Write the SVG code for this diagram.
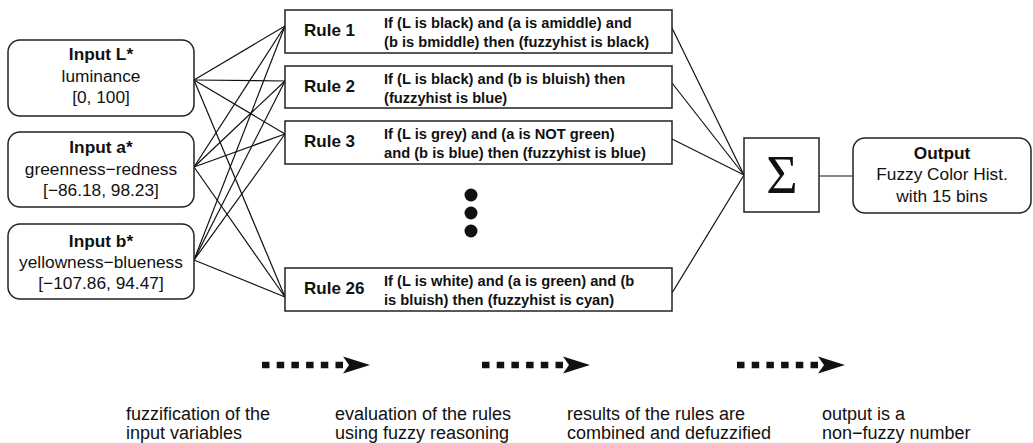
<svg xmlns="http://www.w3.org/2000/svg" width="1033" height="443" viewBox="0 0 1033 443">
<defs>
<style>
.box{fill:#fff;stroke:#222;stroke-width:1.5}
.ln{stroke:#111;stroke-width:1.2;fill:none}
.t{font-family:"Liberation Sans",Arial,sans-serif;font-size:17.3px;fill:#111;text-anchor:middle}
.tb{font-weight:bold}
.rl{font-family:"Liberation Sans",Arial,sans-serif;font-size:17px;font-weight:bold;fill:#111}
.rt{font-family:"Liberation Sans",Arial,sans-serif;font-size:14.7px;font-weight:bold;fill:#111}
.bt{font-family:"Liberation Sans",Arial,sans-serif;font-size:18px;fill:#111}
.dash{stroke:#111;stroke-width:6.5;stroke-dasharray:7.5 7.2;fill:none}
.head{fill:#111}
</style>
</defs>
<rect width="1033" height="443" fill="#fff"/>
<g id="connectors">
<line class="ln" x1="194" y1="80" x2="285" y2="26"/>
<line class="ln" x1="194" y1="80" x2="285" y2="81"/>
<line class="ln" x1="194" y1="80" x2="285" y2="134"/>
<line class="ln" x1="194" y1="80" x2="285" y2="297"/>
<line class="ln" x1="194" y1="167" x2="285" y2="26"/>
<line class="ln" x1="194" y1="167" x2="285" y2="81"/>
<line class="ln" x1="194" y1="167" x2="285" y2="134"/>
<line class="ln" x1="194" y1="167" x2="285" y2="297"/>
<line class="ln" x1="194" y1="260" x2="285" y2="26"/>
<line class="ln" x1="194" y1="260" x2="285" y2="81"/>
<line class="ln" x1="194" y1="260" x2="285" y2="134"/>
<line class="ln" x1="194" y1="260" x2="285" y2="297"/>
<line class="ln" x1="672" y1="28" x2="744" y2="175"/>
<line class="ln" x1="672" y1="83" x2="744" y2="175"/>
<line class="ln" x1="672" y1="139" x2="744" y2="175"/>
<line class="ln" x1="672" y1="293" x2="744" y2="175"/>
<line class="ln" x1="819" y1="176" x2="853" y2="176"/>
</g>
<g id="inputL">
<rect class="box" x="8" y="40" width="186" height="76" rx="12"/>
<text class="t tb" x="101" y="60">Input L*</text>
<text class="t" x="101" y="82">luminance</text>
<text class="t" x="101" y="103">[0, 100]</text>
</g>
<g id="inputA">
<rect class="box" x="8" y="132" width="186" height="75" rx="12"/>
<text class="t tb" x="101" y="153">Input a*</text>
<text class="t" x="101" y="175">greenness−redness</text>
<text class="t" x="101" y="196">[−86.18, 98.23]</text>
</g>
<g id="inputB">
<rect class="box" x="8" y="224" width="186" height="75" rx="12"/>
<text class="t tb" x="101" y="247">Input b*</text>
<text class="t" x="101" y="268">yellowness−blueness</text>
<text class="t" x="101" y="289">[−107.86, 94.47]</text>
</g>
<g id="rule1">
<rect class="box" x="285" y="10" width="387" height="43"/>
<text class="rl" x="304" y="36">Rule 1</text>
<text class="rt" x="384" y="28">If (L is black) and (a is amiddle) and</text>
<text class="rt" x="384" y="47">(b is bmiddle) then (fuzzyhist is black)</text>
</g>
<g id="rule2">
<rect class="box" x="285" y="66" width="387" height="42"/>
<text class="rl" x="304" y="92">Rule 2</text>
<text class="rt" x="384" y="84">If (L is black) and (b is bluish) then</text>
<text class="rt" x="384" y="103">(fuzzyhist is blue)</text>
</g>
<g id="rule3">
<rect class="box" x="285" y="121" width="387" height="43"/>
<text class="rl" x="304" y="147">Rule 3</text>
<text class="rt" x="384" y="139">If (L is grey) and (a is NOT green)</text>
<text class="rt" x="384" y="158">and (b is blue) then (fuzzyhist is blue)</text>
</g>
<g id="dots">
<circle cx="471" cy="195" r="6.5" fill="#111"/>
<circle cx="471" cy="213" r="6.5" fill="#111"/>
<circle cx="471" cy="231" r="6.5" fill="#111"/>
</g>
<g id="rule26">
<rect class="box" x="285" y="268" width="387" height="43"/>
<text class="rl" x="304" y="294">Rule 26</text>
<text class="rt" x="384" y="286">If (L is white) and (a is green) and (b</text>
<text class="rt" x="384" y="305">is bluish) then (fuzzyhist is cyan)</text>
</g>
<g id="sum">
<rect class="box" x="744" y="138" width="75" height="74"/>
<text x="782" y="193" font-family="'Liberation Serif','Times New Roman',serif" font-size="54" fill="#111" text-anchor="middle">Σ</text>
</g>
<g id="output">
<rect class="box" x="853" y="138" width="178" height="75" rx="12"/>
<text class="t tb" x="942" y="159">Output</text>
<text class="t" x="942" y="180">Fuzzy Color Hist.</text>
<text class="t" x="942" y="202">with 15 bins</text>
</g>
<g id="stages">
<line class="dash" x1="262" y1="365" x2="343" y2="365"/>
<path class="head" d="M370,365 L343,356.5 L349,365 L343,373.5 Z"/>
<line class="dash" x1="482" y1="365" x2="563" y2="365"/>
<path class="head" d="M590,365 L563,356.5 L569,365 L563,373.5 Z"/>
<line class="dash" x1="737" y1="365" x2="818" y2="365"/>
<path class="head" d="M845,365 L818,356.5 L824,365 L818,373.5 Z"/>
<text class="bt" x="126" y="420">fuzzification of the</text>
<text class="bt" x="126" y="439">input variables</text>
<text class="bt" x="335" y="420">evaluation of the rules</text>
<text class="bt" x="335" y="439">using fuzzy reasoning</text>
<text class="bt" x="567" y="420">results of the rules are</text>
<text class="bt" x="567" y="439">combined and defuzzified</text>
<text class="bt" x="822" y="420">output is a</text>
<text class="bt" x="822" y="439">non−fuzzy number</text>
</g>
</svg>
